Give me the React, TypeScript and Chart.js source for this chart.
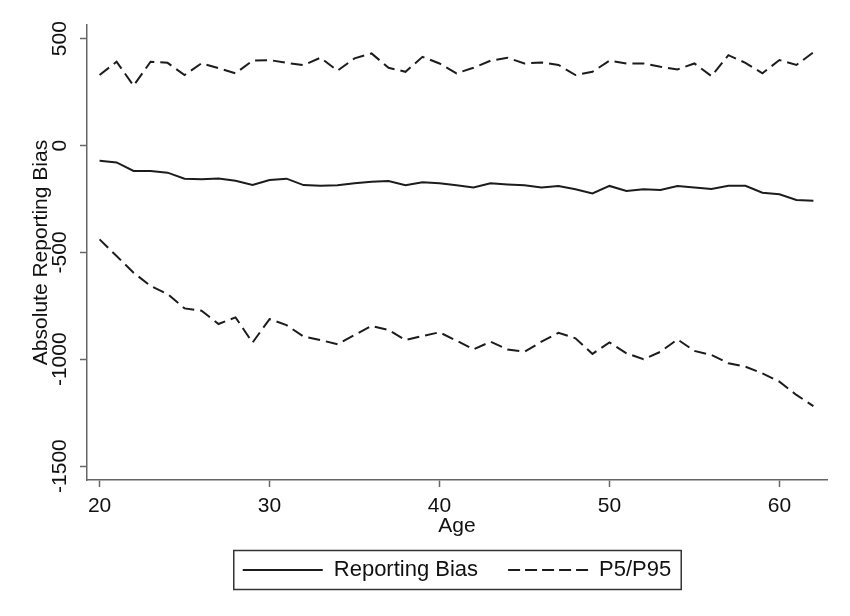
import React, { useEffect, useRef } from 'react';
import { Chart, registerables } from 'chart.js';

Chart.register(...registerables);

const ages = [20, 21, 22, 23, 24, 25, 26, 27, 28, 29, 30, 31, 32, 33, 34, 35, 36, 37, 38, 39, 40, 41, 42, 43, 44, 45, 46, 47, 48, 49, 50, 51, 52, 53, 54, 55, 56, 57, 58, 59, 60, 61, 62];

const reportingBias = [-71, -79, -119, -119, -127, -155, -158, -154, -165, -185, -161, -155, -185, -188, -186, -177, -169, -166, -186, -172, -177, -186, -196, -177, -182, -186, -196, -189, -205, -224, -189, -213, -205, -208, -189, -196, -203, -188, -188, -221, -228, -255, -258];

const p95 = [330, 392, 280, 392, 387, 330, 385, 362, 338, 397, 400, 387, 376, 411, 350, 408, 431, 364, 345, 415, 384, 338, 364, 397, 411, 384, 389, 377, 330, 345, 397, 384, 384, 369, 356, 384, 325, 423, 387, 338, 400, 377, 436];

const p5 = [-439, -517, -595, -657, -695, -762, -773, -835, -804, -922, -812, -840, -894, -910, -930, -887, -844, -863, -910, -891, -874, -913, -954, -918, -954, -965, -918, -876, -902, -975, -921, -972, -1000, -965, -907, -961, -980, -1019, -1035, -1066, -1105, -1167, -1219];

const xTicks = [20, 30, 40, 50, 60];
const yTicks = [-1500, -1000, -500, 0, 500];
const seriesLabels = ['Reporting Bias', 'P5/P95', 'P5'];
const xTitle = 'Age';
const yTitle = 'Absolute Reporting Bias';

const FONT = "'Liberation Sans', Arial, sans-serif";
const LINE = '#1c1c1c';
const AXIS = '#666666';
const TEXT = '#111111';

export default function App() {
  const ref = useRef<HTMLCanvasElement | null>(null);

  useEffect(() => {
    if (!ref.current) return;
    Chart.defaults.font.family = FONT;
    Chart.defaults.color = TEXT;

    const legendBox = {
      id: 'legendBox',
      afterDraw(chart: any) {
        const lg = chart.legend;
        if (!lg || !lg.legendHitBoxes || !lg.legendHitBoxes.length) return;
        const hb = lg.legendHitBoxes;
        const first = hb[0];
        const last = hb[hb.length - 1];
        const left = first.left - 9;
        const right = last.left + last.width + 10;
        const cy = first.top + first.height / 2;
        const ctx = chart.ctx;
        ctx.save();
        ctx.strokeStyle = '#333333';
        ctx.lineWidth = 1.5;
        ctx.setLineDash([]);
        ctx.strokeRect(left, cy - 19.5, right - left, 39);
        ctx.restore();
      },
    };

    const toPts = (ys: number[]) => ages.map((a, i) => ({ x: a, y: ys[i] }));

    const chart = new Chart(ref.current, {
      type: 'line',
      data: {
        datasets: [
          {
            label: seriesLabels[0],
            data: toPts(reportingBias),
            borderColor: LINE,
            backgroundColor: LINE,
            borderWidth: 2,
            pointRadius: 0,
            tension: 0,
          },
          {
            label: seriesLabels[1],
            data: toPts(p95),
            borderColor: LINE,
            backgroundColor: LINE,
            borderWidth: 2,
            borderDash: [12, 6],
            pointRadius: 0,
            tension: 0,
          },
          {
            label: seriesLabels[2],
            data: toPts(p5),
            borderColor: LINE,
            backgroundColor: LINE,
            borderWidth: 2,
            borderDash: [12, 6],
            pointRadius: 0,
            tension: 0,
          },
        ],
      },
      options: {
        responsive: false,
        animation: false,
        events: [],
        layout: { padding: { left: 0, right: 23, top: 25, bottom: 25 } },
        scales: {
          x: {
            type: 'linear',
            min: 19.26,
            max: 62.8,
            afterBuildTicks: (s: any) => {
              s.ticks = xTicks.map((v) => ({ value: v }));
            },
            afterFit: (s: any) => {
              s.height = 49;
            },
            grid: {
              display: true,
              drawOnChartArea: false,
              drawTicks: true,
              tickLength: 7,
              color: AXIS,
              tickWidth: 1.5,
            },
            border: { display: true, color: AXIS, width: 1.5 },
            ticks: {
              font: { size: 21, lineHeight: 1, family: FONT },
              color: TEXT,
              padding: 9,
              maxRotation: 0,
              autoSkip: false,
              callback: (v: any) => String(v),
            },
            title: {
              display: true,
              text: xTitle,
              color: TEXT,
              font: { size: 21, lineHeight: 1, family: FONT },
              padding: { top: 0, bottom: -8 },
            },
          },
          y: {
            type: 'linear',
            min: -1565,
            max: 564,
            afterBuildTicks: (s: any) => {
              s.ticks = yTicks.map((v) => ({ value: v }));
            },
            afterFit: (s: any) => {
              s.width = 87;
            },
            grid: {
              display: true,
              drawOnChartArea: false,
              drawTicks: true,
              tickLength: 7,
              color: AXIS,
              tickWidth: 1.5,
            },
            border: { display: true, color: AXIS, width: 1.5 },
            ticks: {
              font: { size: 21, lineHeight: 1, family: FONT },
              color: TEXT,
              minRotation: 90,
              maxRotation: 90,
              crossAlign: 'center',
              padding: -7.5,
              autoSkip: false,
              callback: (v: any) => String(v),
            },
            title: {
              display: true,
              text: yTitle,
              color: TEXT,
              font: { size: 21, lineHeight: 1, family: FONT },
              padding: { top: 31, bottom: 0 },
            },
          },
        },
        plugins: {
          legend: {
            position: 'bottom',
            fullSize: false,
            labels: {
              usePointStyle: true,
              pointStyle: 'line',
              pointStyleWidth: 80,
              padding: 30,
              color: TEXT,
              font: { size: 22, family: FONT },
              generateLabels: (c: any) => {
                const items = (Chart as any).defaults.plugins.legend.labels.generateLabels(c);
                items.forEach((it: any) => {
                  const ds = c.data.datasets[it.datasetIndex];
                  it.lineDash = ds.borderDash ? [12, 5] : [];
                  it.lineWidth = 2;
                  it.strokeStyle = LINE;
                });
                return items;
              },
              filter: (item: any) => item.datasetIndex !== 2,
            },
          },
          tooltip: { enabled: false },
        },
      } as any,
      plugins: [legendBox],
    });

    return () => chart.destroy();
  }, []);

  return (
    <div style={{ position: 'fixed', left: 0, top: 0, width: 850, height: 616, background: '#ffffff' }}>
      <canvas ref={ref} width={850} height={616} style={{ display: 'block', width: 850, height: 616 }} />
    </div>
  );
}
